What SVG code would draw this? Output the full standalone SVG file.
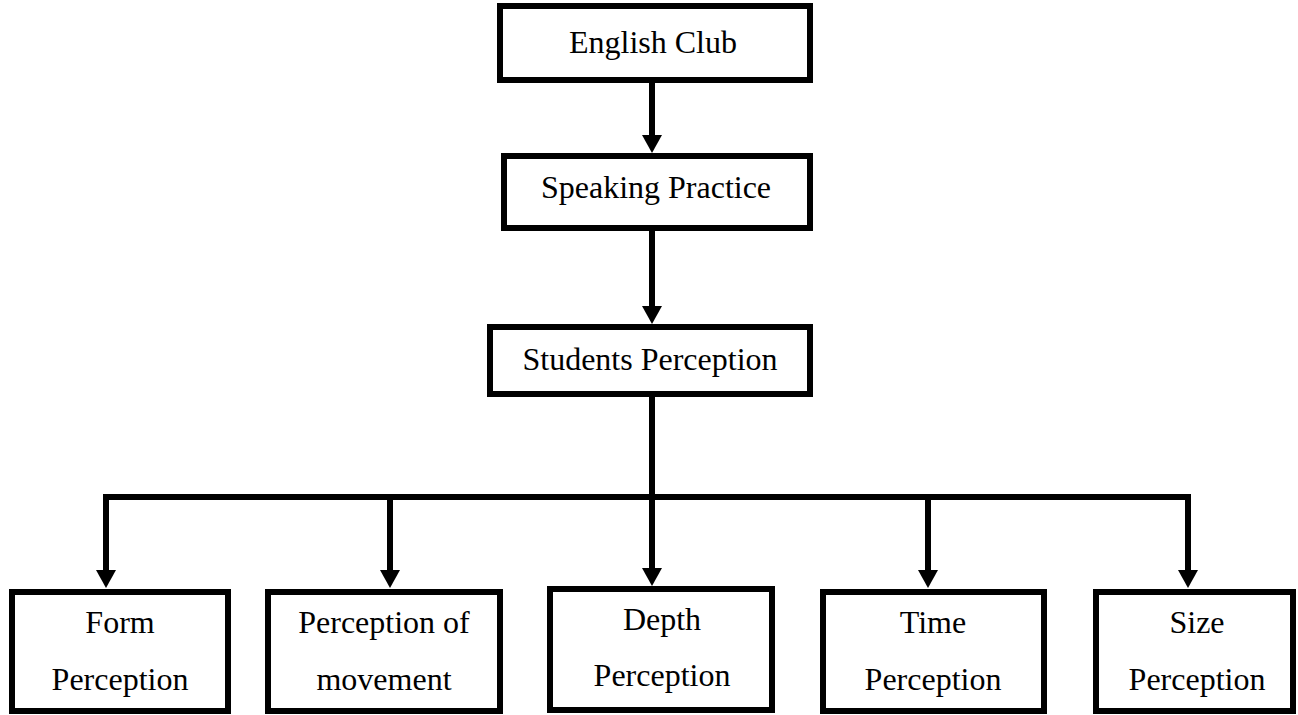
<svg xmlns="http://www.w3.org/2000/svg" width="1298" height="715" viewBox="0 0 1298 715">
<style>
.box{fill:#fff;stroke:#000;stroke-width:6}
.lbl{font-family:"Liberation Serif","Times New Roman",serif;font-size:32px;fill:#000;text-anchor:middle}
.con{fill:none;stroke:#000;stroke-width:6;stroke-linejoin:miter}
</style>
<defs>
<marker id="ah" markerUnits="userSpaceOnUse" markerWidth="20" markerHeight="20" viewBox="0 0 18 20" refX="8" refY="10" orient="auto-start-reverse">
<path d="M0,0 L18,10 L0,20 z" fill="#000"/>
</marker>
</defs>
<g id="connectors">
<path class="con" d="M652,83 V143" marker-end="url(#ah)"/>
<path class="con" d="M652,231 V314" marker-end="url(#ah)"/>
<path class="con" d="M652,397 V576" marker-end="url(#ah)"/>
<path class="con" d="M106,578 V497 H1188 V578" marker-start="url(#ah)" marker-end="url(#ah)"/>
<path class="con" d="M390,497 V578" marker-end="url(#ah)"/>
<path class="con" d="M928,497 V578" marker-end="url(#ah)"/>
</g>
<g id="english-club">
<rect class="box" x="500" y="6" width="310" height="74"/>
<text class="lbl" x="653" y="53">English Club</text>
</g>
<g id="speaking-practice">
<rect class="box" x="504" y="156" width="306" height="72"/>
<text class="lbl" x="656" y="198">Speaking Practice</text>
</g>
<g id="students-perception">
<rect class="box" x="490" y="327" width="320" height="67"/>
<text class="lbl" x="650" y="370">Students Perception</text>
</g>
<g id="form-perception">
<rect class="box" x="12" y="592" width="216" height="119"/>
<text class="lbl" x="120" y="633">Form</text>
<text class="lbl" x="120" y="690">Perception</text>
</g>
<g id="perception-of-movement">
<rect class="box" x="268" y="592" width="232" height="119"/>
<text class="lbl" x="384" y="633">Perception of</text>
<text class="lbl" x="384" y="690">movement</text>
</g>
<g id="depth-perception">
<rect class="box" x="550" y="589" width="222" height="121"/>
<text class="lbl" x="662" y="630">Depth</text>
<text class="lbl" x="662" y="686">Perception</text>
</g>
<g id="time-perception">
<rect class="box" x="823" y="592" width="221" height="119"/>
<text class="lbl" x="933" y="633">Time</text>
<text class="lbl" x="933" y="690">Perception</text>
</g>
<g id="size-perception">
<rect class="box" x="1096" y="592" width="197" height="119"/>
<text class="lbl" x="1197" y="633">Size</text>
<text class="lbl" x="1197" y="690">Perception</text>
</g>
</svg>
